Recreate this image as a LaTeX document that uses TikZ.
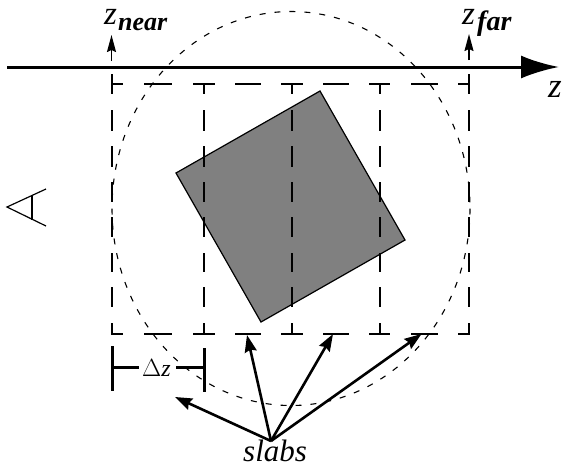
\documentclass[tikz,border=0pt]{standalone}
\usepackage{fontspec}
\setmainfont{Liberation Serif}
\usetikzlibrary{arrows.meta}
\tikzset{
  px/.style={x=1pt,y=-1pt},
  slabline/.style={line width=1.8pt,black},
  axisline/.style={line width=3pt,-{Latex[length=38pt,width=23pt]}},
  tickarrow/.style={line width=1.4pt,-{Stealth[length=17pt,width=9pt,inset=2pt]}},
  slabarrow/.style={line width=2.6pt,-{Stealth[length=17pt,width=12pt,inset=2pt]}},
  barline/.style={line width=3pt},
  eyeline/.style={line width=1.2pt},
  sphere/.style={line width=1.1pt,dash pattern=on 6pt off 9pt},
  lab/.style={inner sep=0pt,anchor=base west},
}
\begin{document}
\begin{tikzpicture}[px]
\useasboundingbox (0,0) rectangle (562,467);
\fill[white] (0,0) rectangle (562,467);
\draw[line width=1.2pt,fill=black!50] (320,91) -- (405,240) -- (261,322) -- (176,173) -- cycle;
\draw[sphere] (291,208.5) ellipse [x radius=179,y radius=197];
% horizontal dashes
\foreach \y in {84,334}{
  \foreach \a/\b in {112/123,144/172,193/215,235/261,281/303,323/349,369/390,411/438,458/470}
    \draw[slabline] (\a,\y) -- (\b,\y);
}
% vertical dashes
\foreach \x/\s in {112/74,204/84,292/84,380/84,469/74}{
  \draw[slabline] (\x,\s) -- (\x,94);
  \foreach \a/\b in {110/131,146/167,182/202,217/237,253/272,287/307,323/334.8}
    \draw[slabline] (\x,\a) -- (\x,\b);
}
\coordinate (axisS) at (7,67);
\coordinate (axisE) at (559,67);
\draw[axisline] (axisS) -- (axisE);
\coordinate (nearS) at (111.5,61); \coordinate (nearE) at (111.5,35);
\coordinate (farS) at (469,60); \coordinate (farE) at (469,34);
\draw[tickarrow] (nearS) -- (nearE);
\draw[tickarrow] (farS) -- (farE);
\node[lab,font=\fontsize{33}{33}\selectfont\itshape] (zn) at (104,24) {z};
\node[lab,font=\fontsize{26}{26}\selectfont\itshape\bfseries] (nr) at (118,30) {near};
\node[lab,font=\fontsize{33}{33}\selectfont\itshape] (zf) at (462,24) {z};
\node[lab,font=\fontsize{28}{28}\selectfont\itshape\bfseries] (fr) at (477,30) {far};
\node[lab,font=\fontsize{35}{35}\selectfont\itshape] (zz) at (548,97) {z};
% eye
\draw[eyeline] (46,189) -- (7,207) -- (46,226);
\draw[eyeline] (32,195) -- (32,219.5);
% delta z
\draw[barline] (112,346) -- (112,391);
\draw[barline] (204,348) -- (204,392);
\node[lab,font=\fontsize{24}{24}\selectfont] (dz) at (142,376) {$\Delta$\textit{z}};
\coordinate (dzL) at (139,367);
\coordinate (dzR) at (176,367);
\draw[barline] (112,367) -- (dzL);
\draw[barline] (dzR) -- (204,367);
% slabs
\node[lab,font=\fontsize{31}{31}\selectfont\itshape] (slabs) at (243,461) {slabs};
\coordinate (root) at (271,441);
\coordinate (t1) at (175,397);
\coordinate (t2) at (247,335);
\coordinate (t3) at (333,334);
\coordinate (t4) at (421.5,334);
\foreach \t in {t1,t2,t3,t4} \draw[slabarrow] (root) -- (\t);
\end{tikzpicture}
\end{document}
